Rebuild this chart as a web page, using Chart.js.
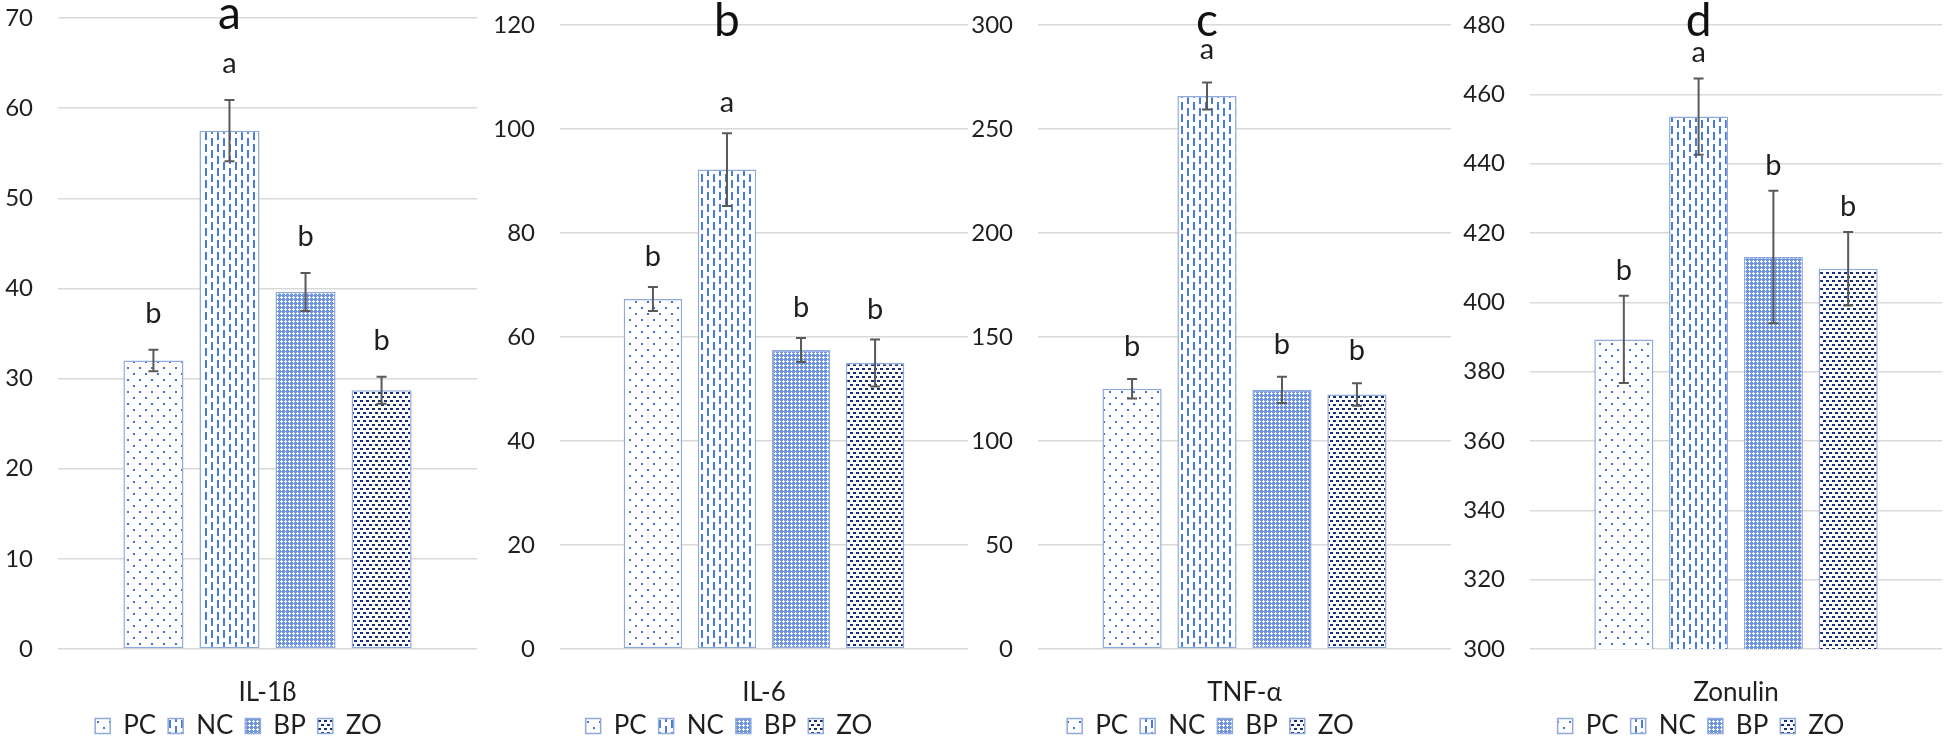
<!DOCTYPE html>
<html>
<head>
<meta charset="utf-8">
<title>Cytokines and zonulin</title>
<script src="https://cdn.jsdelivr.net/npm/chart.js@4.4.1/dist/chart.umd.min.js"></script>
<style>
    html, body { margin: 0; padding: 0; background: #fff; overflow: hidden; }
    #wrap { position: relative; width: 1944px; height: 737px; overflow: hidden; }
    #wrap canvas { position: absolute; top: 0; }
</style>
</head>
<body>
<div id="wrap">
    <canvas id="chartIL1b"></canvas>
    <canvas id="chartIL6"></canvas>
    <canvas id="chartTNF"></canvas>
    <canvas id="chartZonulin"></canvas>
</div>
<script>
// groups and values
const groups = ["PC", "NC", "BP", "ZO"];
const markers = ["IL-1β", "IL-6", "TNF-α", "Zonulin"];
const panelLetters = ["a", "b", "c", "d"];

const il1bMeans = [32.0, 57.5, 39.6, 28.7];
const il1bErrors = [1.2, 3.4, 2.1, 1.5];
const il1bLetters = ["b", "a", "b", "b"];

const il6Means = [67.3, 92.2, 57.5, 55.0];
const il6Errors = [2.3, 7.0, 2.3, 4.5];
const il6Letters = ["b", "a", "b", "b"];

const tnfMeans = [125.1, 265.9, 124.6, 122.4];
const tnfErrors = [4.7, 6.5, 6.3, 5.4];
const tnfLetters = ["b", "a", "b", "b"];

const zonulinMeans = [389.3, 453.6, 413.1, 409.7];
const zonulinErrors = [12.6, 11.0, 19.1, 10.6];
const zonulinLetters = ["b", "a", "b", "b"];

// y axis tick range per panel
const yMin = [0, 0, 0, 300];
const yMax = [70, 120, 300, 480];
const yStep = [10, 20, 50, 20];

Chart.defaults.font.family = "Lato, 'Open Sans', sans-serif";

const textColor = "#1f1f1f";
const barBorder = "#8faadc";
const legendFont = 26;
const legendPadding = 12;
const canvasHeight = 749;

const makePattern = (w, h, draw) => {
    const c = document.createElement("canvas");
    c.width = w;
    c.height = h;
    const g = c.getContext("2d");
    g.fillStyle = "#fff";
    g.fillRect(0, 0, w, h);
    draw(g);
    return g.createPattern(c, "repeat");
}

// excel style fill patterns
const patterns = [
    makePattern(12, 12, (g) => {
        g.fillStyle = "#4472c4";
        g.fillRect(1, 1, 2, 2);
        g.fillRect(7, 7, 2, 2);
    }),
    makePattern(12, 12, (g) => {
        g.fillStyle = "#4a7bd6";
        g.fillRect(1, 0, 2, 8);
        g.fillRect(7, 6, 2, 6);
        g.fillRect(7, 0, 2, 2);
    }),
    makePattern(4, 4, (g) => {
        g.fillStyle = "#6f95de";
        g.fillRect(0, 0, 4, 4);
        g.fillStyle = "#fff";
        g.fillRect(1, 0, 1, 3);
        g.fillRect(0, 1, 3, 1);
    }),
    makePattern(6, 8, (g) => {
        g.fillStyle = "#152f7a";
        g.fillRect(0, 0, 3, 2);
        g.fillRect(3, 4, 3, 2);
    }),
];

const errorBars = {
    id: "errorBars",
    afterDatasetsDraw: (chart, args, opts) => {
        const {ctx, scales: {y}} = chart;
        ctx.save();
        chart.data.datasets.forEach((ds, i) => {
            const bar = chart.getDatasetMeta(i).data[0];
            const v = ds.data[0];
            const e = opts.errors[i];
            const top = y.getPixelForValue(v + e);
            const bot = y.getPixelForValue(v - e);

            ctx.strokeStyle = "#595959";
            ctx.lineWidth = 2;
            ctx.beginPath();
            ctx.moveTo(bar.x, top);
            ctx.lineTo(bar.x, bot);
            ctx.moveTo(bar.x - 5, top);
            ctx.lineTo(bar.x + 5, top);
            ctx.moveTo(bar.x - 5, bot);
            ctx.lineTo(bar.x + 5, bot);
            ctx.stroke();

            ctx.fillStyle = textColor;
            ctx.font = "29px Lato";
            ctx.textAlign = "center";
            ctx.textBaseline = "alphabetic";
            ctx.fillText(opts.letters[i], bar.x, top - opts.gap);
        });

        // panel letter sits above the NC bar
        const nc = chart.getDatasetMeta(1).data[0];
        ctx.fillStyle = "#111";
        ctx.font = "46px Lato";
        ctx.textAlign = "center";
        ctx.textBaseline = "alphabetic";
        ctx.fillText(opts.title, nc.x, chart.chartArea.top + 11);
        ctx.restore();
    },
};

const panels = [
    {id: "chartIL1b", left: 0, width: 477, axisWidth: 58, top: 18, gap: 27, means: il1bMeans, errors: il1bErrors, letters: il1bLetters},
    {id: "chartIL6", left: 490, width: 478, axisWidth: 70, top: 25, gap: 21, means: il6Means, errors: il6Errors, letters: il6Letters},
    {id: "chartTNF", left: 970, width: 481, axisWidth: 68, top: 25, gap: 23, means: tnfMeans, errors: tnfErrors, letters: tnfLetters},
    {id: "chartZonulin", left: 1460, width: 482, axisWidth: 70, top: 25, gap: 16, means: zonulinMeans, errors: zonulinErrors, letters: zonulinLetters},
];

const drawPanel = (p, i) => {
    const canvas = document.getElementById(p.id);
    canvas.width = p.width;
    canvas.height = canvasHeight;
    canvas.style.left = p.left + "px";

    const legendHeight = legendFont + legendPadding + 10;
    const xAxisHeight = canvasHeight - legendHeight - 649;

    return new Chart(canvas.getContext("2d"), {
        type: "bar",
        data: {
            labels: [markers[i]],
            datasets: groups.map((g, j) => ({
                label: g,
                data: [p.means[j]],
                backgroundColor: patterns[j],
                borderColor: barBorder,
                borderWidth: 1.5,
                borderSkipped: false,
                categoryPercentage: 0.726,
                barPercentage: 0.79,
            })),
        },
        plugins: [errorBars],
        options: {
            responsive: false,
            devicePixelRatio: 1,
            animation: false,
            layout: {
                padding: {top: p.top, left: 0, right: 0, bottom: 0},
            },
            plugins: {
                legend: {
                    position: "bottom",
                    labels: {
                        boxWidth: 15,
                        boxHeight: 15,
                        padding: legendPadding,
                        color: textColor,
                        font: {size: legendFont},
                    },
                },
                tooltip: {enabled: false},
                errorBars: {
                    errors: p.errors,
                    letters: p.letters,
                    gap: p.gap,
                    title: panelLetters[i],
                },
            },
            scales: {
                x: {
                    grid: {display: false},
                    border: {display: false},
                    ticks: {color: textColor, font: {size: 26}, padding: 20},
                    afterFit: (scale) => {
                        scale.height = xAxisHeight;
                    },
                },
                y: {
                    min: yMin[i],
                    max: yMax[i],
                    ticks: {stepSize: yStep[i], padding: 25, color: textColor, font: {size: 24}},
                    grid: {color: "#d9d9d9", lineWidth: 1.5, drawTicks: false},
                    border: {display: false},
                    afterFit: (scale) => {
                        // tick padding would otherwise push the plot top down
                        scale.width = p.axisWidth;
                        scale.paddingTop = 0;
                        scale.paddingBottom = 0;
                    },
                },
            },
        },
    });
}

panels.forEach(drawPanel);
</script>
</body>
</html>
